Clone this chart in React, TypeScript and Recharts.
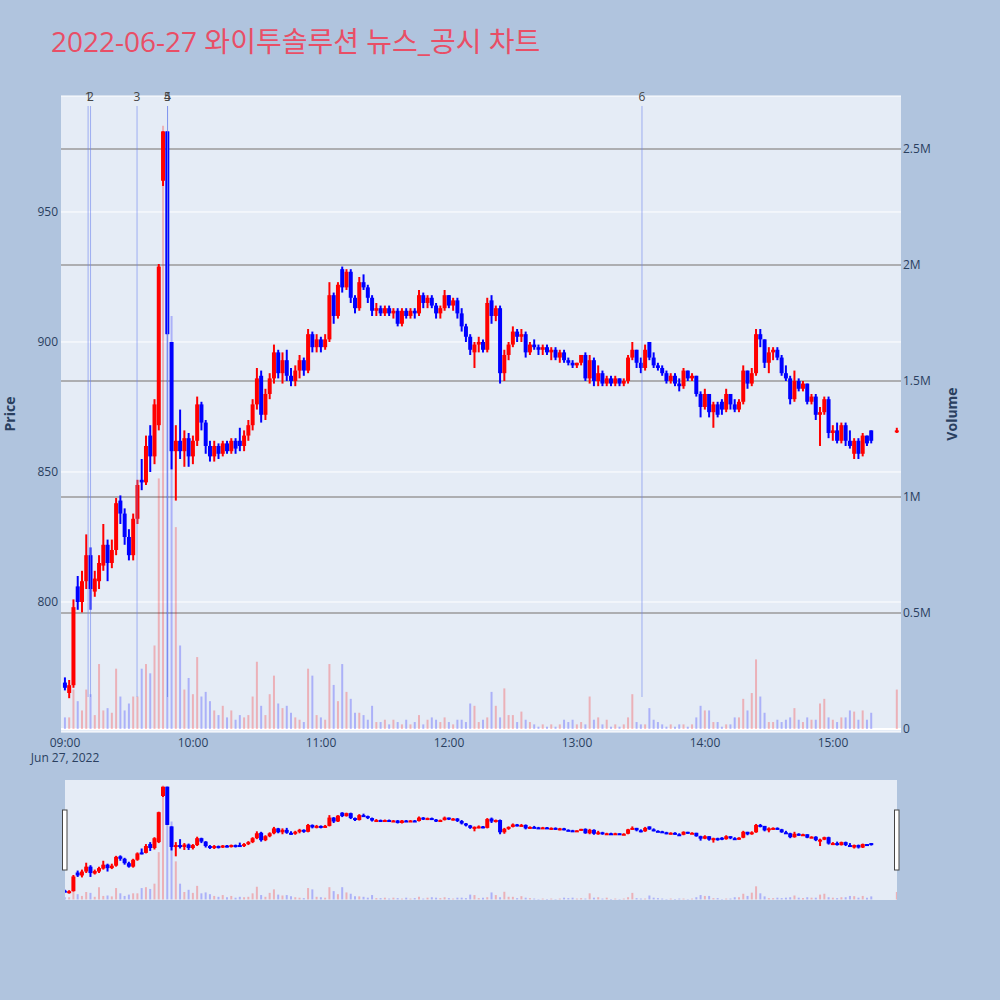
import React from "react";
import {
  ComposedChart,
  Bar,
  Cell,
  XAxis,
  YAxis,
  CartesianGrid,
  ReferenceLine,
} from "recharts";

// 2-minute candles, plus the 15:30 closing auction
const times = [
  "09:00", "09:02", "09:04", "09:06", "09:08", "09:10", "09:12", "09:14", "09:16", "09:18",
  "09:20", "09:22", "09:24", "09:26", "09:28", "09:30", "09:32", "09:34", "09:36", "09:38",
  "09:40", "09:42", "09:44", "09:46", "09:48", "09:50", "09:52", "09:54", "09:56", "09:58",
  "10:00", "10:02", "10:04", "10:06", "10:08", "10:10", "10:12", "10:14", "10:16", "10:18",
  "10:20", "10:22", "10:24", "10:26", "10:28", "10:30", "10:32", "10:34", "10:36", "10:38",
  "10:40", "10:42", "10:44", "10:46", "10:48", "10:50", "10:52", "10:54", "10:56", "10:58",
  "11:00", "11:02", "11:04", "11:06", "11:08", "11:10", "11:12", "11:14", "11:16", "11:18",
  "11:20", "11:22", "11:24", "11:26", "11:28", "11:30", "11:32", "11:34", "11:36", "11:38",
  "11:40", "11:42", "11:44", "11:46", "11:48", "11:50", "11:52", "11:54", "11:56", "11:58",
  "12:00", "12:02", "12:04", "12:06", "12:08", "12:10", "12:12", "12:14", "12:16", "12:18",
  "12:20", "12:22", "12:24", "12:26", "12:28", "12:30", "12:32", "12:34", "12:36", "12:38",
  "12:40", "12:42", "12:44", "12:46", "12:48", "12:50", "12:52", "12:54", "12:56", "12:58",
  "13:00", "13:02", "13:04", "13:06", "13:08", "13:10", "13:12", "13:14", "13:16", "13:18",
  "13:20", "13:22", "13:24", "13:26", "13:28", "13:30", "13:32", "13:34", "13:36", "13:38",
  "13:40", "13:42", "13:44", "13:46", "13:48", "13:50", "13:52", "13:54", "13:56", "13:58",
  "14:00", "14:02", "14:04", "14:06", "14:08", "14:10", "14:12", "14:14", "14:16", "14:18",
  "14:20", "14:22", "14:24", "14:26", "14:28", "14:30", "14:32", "14:34", "14:36", "14:38",
  "14:40", "14:42", "14:44", "14:46", "14:48", "14:50", "14:52", "14:54", "14:56", "14:58",
  "15:00", "15:02", "15:04", "15:06", "15:08", "15:10", "15:12", "15:14", "15:16", "15:18",
  "15:30",
];

const opens = [
  769, 765, 768, 806, 800, 808, 818, 804, 808, 814,
  822, 815, 820, 839, 834, 825, 818, 832, 847, 846,
  864, 856, 868, 962, 981, 900, 858, 862, 858, 863,
  856, 862, 876, 869, 860, 856, 860, 857, 861, 858,
  862, 862, 860, 864, 868, 876, 887, 872, 880, 886,
  896, 888, 893, 887, 885, 889, 893, 889, 903, 898,
  901, 898, 901, 918, 910, 928, 921, 927, 917, 913,
  923, 921, 917, 912, 913, 911, 913, 911, 912, 907,
  912, 910, 912, 911, 918, 915, 917, 914, 911, 913,
  918, 914, 916, 911, 906, 902, 896, 899, 900, 897,
  916, 910, 913, 888, 895, 899, 904, 902, 903, 896,
  899, 898, 897, 898, 896, 897, 894, 896, 893, 892,
  891, 892, 895, 886, 893, 885, 888, 884, 886, 884,
  886, 884, 885, 894, 897, 892, 890, 900, 894, 891,
  890, 888, 885, 887, 884, 883, 889, 886, 887, 880,
  875, 880, 873, 876, 877, 874, 880, 876, 874, 877,
  889, 884, 888, 903, 901, 892, 896, 897, 894, 888,
  886, 878, 885, 882, 884, 877, 879, 872, 873, 878,
  865, 866, 862, 868, 862, 857, 862, 857, 864, 866,
  866,
];

const highs = [
  771, 770, 801, 810, 812, 826, 821, 812, 818, 830,
  824, 824, 840, 841, 836, 828, 834, 847, 855, 864,
  868, 878, 930, 981, 981, 900, 868, 874, 866, 865,
  864, 879, 877, 870, 862, 862, 861, 862, 862, 863,
  863, 867, 866, 870, 878, 890, 889, 882, 888, 899,
  897, 896, 897, 890, 891, 895, 894, 905, 904, 903,
  902, 903, 923, 919, 923, 929, 928, 928, 918, 925,
  926, 922, 918, 915, 914, 914, 914, 913, 913, 913,
  913, 913, 913, 920, 919, 918, 918, 915, 914, 920,
  918, 917, 917, 913, 907, 903, 900, 902, 901, 917,
  918, 914, 914, 897, 900, 906, 905, 905, 904, 900,
  901, 899, 899, 899, 898, 898, 897, 897, 894, 893,
  892, 895, 896, 895, 894, 891, 889, 887, 887, 887,
  886, 886, 895, 900, 897, 894, 899, 900, 896, 892,
  891, 889, 888, 888, 886, 890, 889, 888, 887, 881,
  882, 880, 877, 877, 878, 882, 880, 878, 878, 891,
  889, 890, 905, 905, 901, 898, 898, 898, 895, 891,
  887, 889, 886, 885, 884, 880, 880, 875, 879, 879,
  868, 869, 869, 869, 866, 863, 863, 865, 864, 866,
  867,
];

const lows = [
  766, 763, 767, 797, 796, 805, 797, 802, 805, 812,
  808, 813, 818, 830, 822, 816, 816, 830, 843, 845,
  850, 853, 866, 960, 903, 851, 839, 855, 852, 852,
  853, 860, 866, 857, 854, 854, 855, 856, 857, 857,
  857, 858, 858, 862, 866, 874, 869, 870, 878, 884,
  886, 884, 885, 883, 883, 886, 887, 888, 896, 896,
  896, 897, 900, 907, 909, 919, 920, 915, 911, 912,
  920, 915, 910, 910, 910, 910, 910, 909, 906, 906,
  909, 909, 909, 910, 913, 913, 913, 909, 909, 912,
  913, 912, 909, 904, 900, 895, 890, 896, 896, 896,
  907, 908, 884, 885, 893, 898, 900, 900, 894, 895,
  897, 895, 895, 895, 893, 893, 892, 892, 891, 890,
  890, 891, 885, 884, 883, 883, 883, 883, 883, 883,
  883, 883, 884, 893, 890, 888, 889, 893, 890, 889,
  887, 884, 884, 883, 881, 882, 885, 885, 879, 871,
  874, 871, 867, 871, 872, 873, 874, 873, 873, 876,
  882, 883, 887, 898, 890, 888, 893, 893, 887, 885,
  876, 877, 881, 881, 876, 876, 870, 860, 872, 863,
  862, 861, 861, 860, 859, 855, 855, 856, 860, 861,
  865,
];

const closes = [
  767, 768, 798, 800, 808, 818, 805, 809, 815, 822,
  815, 820, 838, 834, 825, 818, 832, 845, 846, 860,
  856, 876, 929, 981, 903, 858, 862, 858, 863, 856,
  862, 876, 869, 860, 856, 860, 857, 861, 858, 862,
  859, 860, 864, 868, 876, 886, 872, 880, 886, 896,
  888, 893, 887, 885, 889, 893, 889, 903, 898, 901,
  898, 901, 918, 910, 922, 921, 927, 917, 913, 923,
  921, 917, 912, 913, 911, 913, 911, 912, 907, 912,
  910, 912, 911, 918, 915, 917, 914, 911, 913, 918,
  914, 916, 911, 906, 902, 897, 899, 900, 897, 915,
  910, 913, 888, 895, 899, 904, 902, 903, 896, 899,
  898, 897, 898, 896, 897, 894, 896, 893, 892, 891,
  892, 895, 886, 893, 885, 888, 884, 886, 884, 886,
  884, 885, 894, 897, 892, 890, 897, 894, 891, 890,
  888, 885, 887, 884, 883, 889, 886, 887, 880, 875,
  880, 873, 876, 872, 874, 880, 876, 874, 877, 889,
  884, 888, 903, 901, 892, 896, 897, 894, 888, 886,
  878, 885, 882, 884, 877, 879, 872, 873, 878, 865,
  866, 862, 868, 862, 860, 862, 857, 864, 861, 862,
  866,
];

// volume in thousands of shares
const volumeK = [
  50, 50, 170, 120, 80, 170, 150, 60, 280, 80,
  90, 70, 260, 140, 80, 110, 140, 140, 260, 280,
  240, 360, 1080, 2600, 2200, 1780, 870, 360, 170, 220,
  150, 310, 140, 160, 120, 80, 60, 100, 50, 80,
  40, 60, 50, 60, 140, 290, 100, 60, 150, 230,
  110, 90, 100, 70, 50, 40, 30, 260, 230, 60,
  50, 40, 280, 190, 120, 280, 160, 130, 70, 70,
  60, 40, 100, 30, 30, 40, 20, 40, 30, 20,
  40, 20, 30, 60, 20, 40, 50, 40, 30, 50,
  30, 20, 40, 40, 30, 110, 100, 30, 40, 50,
  160, 100, 50, 175, 60, 60, 30, 75, 40, 30,
  20, 10, 20, 10, 20, 10, 20, 40, 30, 40,
  20, 30, 20, 140, 40, 50, 20, 40, 10, 20,
  10, 20, 50, 150, 30, 20, 20, 90, 40, 30,
  20, 10, 20, 10, 20, 20, 10, 20, 50, 100,
  80, 80, 30, 30, 10, 20, 20, 50, 50, 130,
  80, 155, 300, 140, 70, 30, 30, 40, 30, 40,
  50, 90, 40, 30, 50, 40, 40, 110, 130, 50,
  40, 30, 50, 50, 80, 75, 40, 80, 40, 70,
  170,
];

const newsTimes = ["09:10:48", "09:11:57", "09:33:45", "09:48:03", "09:48:03", "13:30:28"];
const hourLabels = ["09:00", "10:00", "11:00", "12:00", "13:00", "14:00", "15:00"];
const priceTicks = [800, 850, 900, 950];
const volumeTicks = [0, 500, 1000, 1500, 2000, 2500];

const toMinutes = (s: string) => {
  const [hh, mm, ss] = s.split(":");
  return (Number(hh) - 9) * 60 + Number(mm) + Number(ss || 0) / 60;
};

const rows = times.map((t, i) => ({
  m: toMinutes(t),
  o: opens[i],
  h: highs[i],
  l: lows[i],
  c: closes[i],
  v: volumeK[i],
  up: closes[i] >= opens[i],
}));

const hourTickValues = hourLabels.map(toMinutes);

const UP = "#FF0000";
const DOWN = "#0000FF";
const INK = "#2a3f5f";
const FONT = "'Open Sans', 'Noto Sans CJK KR', sans-serif";

const Candle = (props: any) => {
  const { x, y, width, height, payload } = props;
  if (x == null || y == null || !payload) return null;
  const top = Math.min(y, y + height);
  const span = Math.abs(height);
  const { o, h, l, c } = payload;
  const toY = (p: number) => (h > l ? top + ((h - p) / (h - l)) * span : top);
  const color = c >= o ? UP : DOWN;
  const bTop = toY(Math.max(o, c));
  const bBot = toY(Math.min(o, c));
  const cx = x + width / 2;
  return (
    <g>
      <line x1={cx} x2={cx} y1={top} y2={top + span} stroke={color} strokeWidth={2} />
      <rect x={x} y={bTop} width={width} height={Math.max(bBot - bTop, 2)} fill={color} />
    </g>
  );
};

const XTick = (props: any) => {
  const { x, y, payload } = props;
  const idx = hourTickValues.indexOf(payload.value);
  return (
    <g>
      <text x={x} y={y} dy={9} textAnchor="middle" fill={INK} fontSize={12} fontFamily={FONT}>
        {hourLabels[idx]}
      </text>
      {idx === 0 && (
        <text x={x} y={y} dy={24} textAnchor="middle" fill={INK} fontSize={12} fontFamily={FONT}>
          Jun 27, 2022
        </text>
      )}
    </g>
  );
};

const LeftTick = (props: any) => (
  <text x={props.x} y={props.y} dy={4} textAnchor="end" fill={INK} fontSize={12} fontFamily={FONT}>
    {props.payload.value}
  </text>
);

const volLabel = (v: number) => (v === 0 ? "0" : `${v / 1000}M`);

const RightTick = (props: any) => (
  <text x={props.x} y={props.y} dy={4} textAnchor="start" fill={INK} fontSize={12} fontFamily={FONT}>
    {volLabel(props.payload.value)}
  </text>
);

const newsShape = (label: string) => (p: any) => {
  const yTop = Math.min(p.y1, p.y2);
  const yBot = Math.max(p.y1, p.y2);
  return (
    <g>
      <line
        x1={p.x1}
        x2={p.x2}
        y1={yTop + 10}
        y2={yBot - 35}
        stroke="#6F86EE"
        strokeOpacity={0.6}
        strokeWidth={1}
      />
      <text x={p.x1} y={yTop + 5} textAnchor="middle" fill="#444" fontSize={12} fontFamily={FONT}>
        {label}
      </text>
    </g>
  );
};

const volumeBars = (
  <Bar xAxisId="v" yAxisId="v" dataKey="v" barSize={2} isAnimationActive={false}>
    {rows.map((r, i) => (
      <Cell key={i} fill={r.up ? UP : DOWN} fillOpacity={0.25} />
    ))}
  </Bar>
);

export default function App() {
  return (
    <div
      style={{
        position: "absolute",
        left: 0,
        top: 0,
        width: 1000,
        height: 1000,
        background: "#B0C4DE",
        overflow: "hidden",
        fontFamily: FONT,
      }}
    >
      <div style={{ position: "absolute", left: 0, top: 0 }}>
        <ComposedChart
          width={1000}
          height={770}
          data={rows}
          margin={{ top: 96, right: 39, bottom: 8, left: 16 }}
        >
          <CartesianGrid
            xAxisId="p"
            yAxisId="p"
            vertical={false}
            stroke="#ffffff"
            strokeWidth={1}
            fill="#E5ECF6"
            fillOpacity={1}
          />
          <CartesianGrid
            xAxisId="p"
            yAxisId="v"
            vertical={false}
            horizontalValues={[500, 1000, 1500, 2000, 2500]}
            stroke="#9a9a9a"
            strokeWidth={1.5}
          />
          <CartesianGrid
            xAxisId="p"
            yAxisId="v"
            vertical={false}
            horizontalValues={[0]}
            stroke="#ffffff"
            strokeWidth={2}
          />
          <XAxis
            xAxisId="p"
            type="number"
            dataKey="m"
            domain={[-1.9, 391.9]}
            allowDataOverflow
            ticks={hourTickValues}
            interval={0}
            tick={<XTick />}
            tickLine={false}
            axisLine={false}
            tickSize={6}
            tickMargin={0}
            height={30}
          />
          <XAxis xAxisId="v" type="number" dataKey="m" domain={[-1.9, 391.9]} allowDataOverflow hide />
          <YAxis
            yAxisId="p"
            orientation="left"
            domain={[750, 994.6]}
            allowDataOverflow
            ticks={priceTicks}
            interval={0}
            tick={<LeftTick />}
            tickLine={false}
            axisLine={false}
            tickSize={0}
            tickMargin={3}
            width={45}
          />
          <YAxis
            yAxisId="v"
            orientation="right"
            domain={[-12.9, 2728]}
            allowDataOverflow
            ticks={volumeTicks}
            interval={0}
            tick={<RightTick />}
            tickLine={false}
            axisLine={false}
            tickSize={0}
            tickMargin={2}
            width={60}
          />
          {volumeBars}
          <Bar
            xAxisId="p"
            yAxisId="p"
            dataKey={(d: any) => [d.l, d.h]}
            barSize={4}
            shape={Candle}
            isAnimationActive={false}
          />
          {newsTimes.map((t, i) => (
            <ReferenceLine
              key={i}
              xAxisId="p"
              yAxisId="p"
              x={toMinutes(t)}
              shape={newsShape(String(i + 1))}
            />
          ))}
        </ComposedChart>
      </div>

      {/* range slider */}
      <div style={{ position: "absolute", left: 65, top: 780, width: 832, height: 120, background: "#E5ECF6" }}>
        <ComposedChart width={832} height={120} data={rows} margin={{ top: 0, right: 0, bottom: 0, left: 0 }}>
          <XAxis xAxisId="p" type="number" dataKey="m" domain={[0, 390]} allowDataOverflow hide />
          <XAxis xAxisId="v" type="number" dataKey="m" domain={[0, 390]} allowDataOverflow hide />
          <YAxis yAxisId="p" domain={[750, 994.6]} allowDataOverflow hide />
          <YAxis yAxisId="v" domain={[-12.9, 2728]} allowDataOverflow hide />
          {volumeBars}
          <Bar
            xAxisId="p"
            yAxisId="p"
            dataKey={(d: any) => [d.l, d.h]}
            barSize={4}
            shape={Candle}
            isAnimationActive={false}
          />
        </ComposedChart>
      </div>

      <svg width={1000} height={1000} style={{ position: "absolute", left: 0, top: 0, pointerEvents: "none" }}>
        <text x={51} y={52} fontSize={28} fill="#E94E66" fontFamily={FONT}>
          2022-06-27 와이투솔루션 뉴스_공시 차트
        </text>
        <text
          transform="translate(15,414) rotate(-90)"
          textAnchor="middle"
          fontSize={14}
          fontWeight="bold"
          fill={INK}
          fontFamily={FONT}
        >
          Price
        </text>
        <text
          transform="translate(957,414) rotate(-90)"
          textAnchor="middle"
          fontSize={14}
          fontWeight="bold"
          fill={INK}
          fontFamily={FONT}
        >
          Volume
        </text>
        <rect x={62.5} y={810} width={4.5} height={60} fill="#ffffff" stroke="#444" strokeWidth={1} />
        <rect x={894.5} y={810} width={4.5} height={60} fill="#ffffff" stroke="#444" strokeWidth={1} />
      </svg>
    </div>
  );
}
